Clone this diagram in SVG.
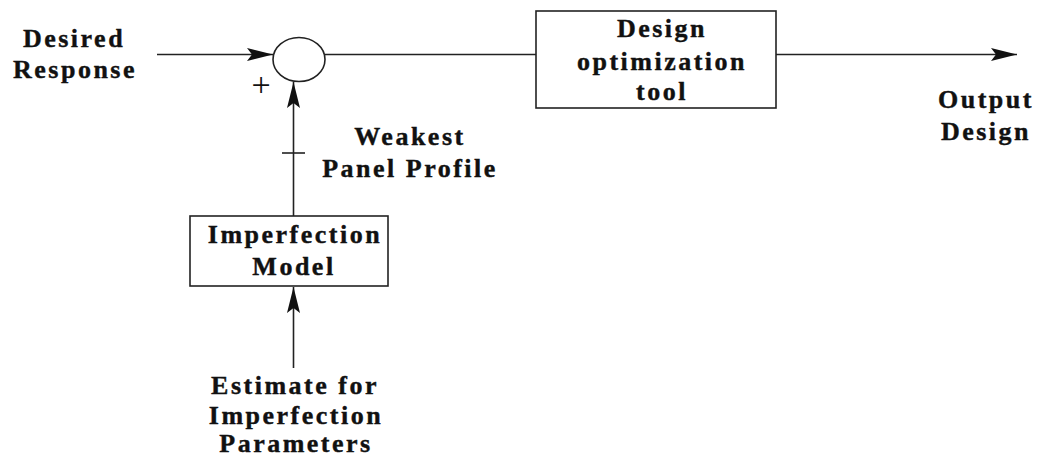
<svg xmlns="http://www.w3.org/2000/svg" width="1042" height="464" viewBox="0 0 1042 464">
<style>
.t{font-family:"Liberation Serif","Times New Roman",serif;font-weight:bold;font-size:26px;letter-spacing:2.5px;fill:#111;stroke:#111;stroke-width:0.4;text-anchor:middle}
.p{font-family:"Liberation Serif","Times New Roman",serif;font-size:34px;fill:#111;text-anchor:middle}
.s{fill:none;stroke:#222;stroke-width:1.6}
.b{fill:#fff;stroke:#222;stroke-width:1.6}
</style>
<defs>
<marker id="ah" viewBox="0 0 26 13" refX="26" refY="6.5" markerWidth="26" markerHeight="13" markerUnits="userSpaceOnUse" orient="auto">
<path d="M0,0 L26,6.5 L0,13 L5,6.5 Z" fill="#111"/>
</marker>
</defs>
<g id="connectors">
<line class="s" x1="157" y1="54.5" x2="273" y2="54.5" marker-end="url(#ah)"/>
<line class="s" x1="325" y1="54.5" x2="536" y2="54.5"/>
<line class="s" x1="776" y1="54.5" x2="1017" y2="54.5" marker-end="url(#ah)"/>
<line class="s" x1="293.5" y1="216" x2="293.5" y2="82" marker-end="url(#ah)"/>
<line class="s" x1="282" y1="153" x2="305" y2="153"/>
<line class="s" x1="293.5" y1="368" x2="293.5" y2="287" marker-end="url(#ah)"/>
</g>
<g id="desired-response">
<text class="t" x="74" y="46.5">Desired</text>
<text class="t" x="75" y="78">Response</text>
</g>
<g id="summing-junction">
<ellipse class="b" cx="299" cy="59.5" rx="26" ry="22"/>
<text class="p" x="261" y="96">+</text>
</g>
<g id="design-optimization-tool">
<rect class="b" x="536" y="11" width="240" height="97"/>
<text class="t" x="662" y="37">Design</text>
<text class="t" x="662" y="70">optimization</text>
<text class="t" x="662" y="100">tool</text>
</g>
<g id="output-design">
<text class="t" x="986" y="108">Output</text>
<text class="t" x="986" y="140">Design</text>
</g>
<g id="weakest-panel-profile">
<text class="t" x="410" y="145">Weakest</text>
<text class="t" x="410" y="177">Panel Profile</text>
</g>
<g id="imperfection-model">
<rect class="b" x="190" y="216" width="198" height="70"/>
<text class="t" x="295" y="243">Imperfection</text>
<text class="t" x="294" y="275">Model</text>
</g>
<g id="estimate">
<text class="t" x="295" y="394">Estimate for</text>
<text class="t" x="296" y="424">Imperfection</text>
<text class="t" x="296" y="452">Parameters</text>
</g>
</svg>
